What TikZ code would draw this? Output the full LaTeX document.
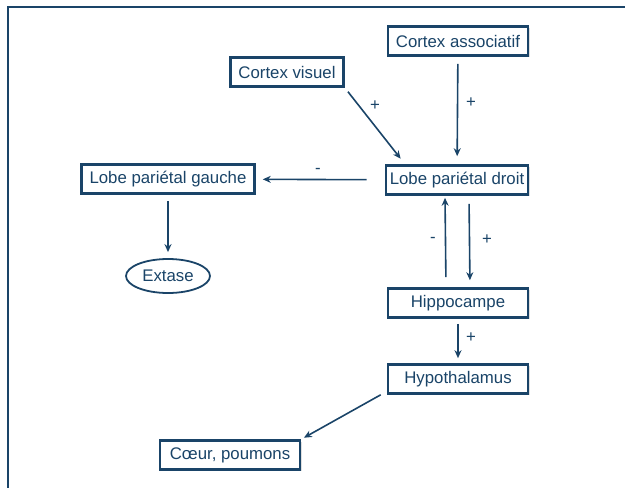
\documentclass[tikz,border=0pt]{standalone}
\usepackage{fontspec}
\setmainfont{Liberation Sans}
\usetikzlibrary{arrows.meta,shadows,shapes.geometric}
\definecolor{navy}{HTML}{1A4468}

\begin{document}
\begin{tikzpicture}[x=1pt,y=-1pt,
    boite/.style={draw=navy, line width=2.6pt, fill=white, text=navy,
        minimum height=29pt, inner xsep=8pt, inner ysep=2pt,
        font=\fontsize{16.8}{18}\selectfont,
        drop shadow={opacity=0.25, shadow xshift=1.5pt, shadow yshift=-1.5pt}},
    fleche/.style={draw=navy, line width=1.6pt, -{Stealth[length=8pt,width=7pt]}},
    signe/.style={text=navy, font=\fontsize{16.8}{18}\selectfont}]
    \useasboundingbox (0,0) rectangle (625,488);

    % Frame
    \draw[navy, line width=2.6pt] (8,488) -- (8,7) -- (625,7);

    % Boxes
    \node[boite, minimum width=140pt] (assoc) at (458,41) {Cortex associatif};
    \node[boite] (visuel) at (287,72) {Cortex visuel};
    \node[boite, inner xsep=3pt, minimum width=142pt] (droit) at (457,180) {Lobe pariétal droit};
    \node[boite] (gauche) at (168,179) {Lobe pariétal gauche};
    \node[draw=navy, line width=1.8pt, ellipse, text=navy, minimum width=84pt,
        minimum height=34pt, inner sep=0pt,
        font=\fontsize{16.8}{18}\selectfont] (extase) at (168,276) {Extase};
    \node[boite, minimum width=140pt] (hippo) at (458,303) {Hippocampe};
    \node[boite, minimum width=140pt] (hypo) at (458,379) {Hypothalamus};
    \node[boite, minimum width=140pt] (coeur) at (230,455) {Cœur, poumons};

    % Arrows
    \draw[fleche, shorten <=7pt, shorten >=8pt] (assoc) -- (droit);
    \draw[fleche, shorten <=5pt, shorten >=7pt] (visuel.south east) -- ([xshift=-52pt]droit.north);
    \draw[fleche, shorten <=18pt, shorten >=7pt] (droit) -- (gauche);
    \draw[fleche, shorten <=6pt, shorten >=6pt] (gauche) -- (extase);
    \draw[fleche, shorten <=10pt, shorten >=2pt] ([xshift=-12pt]hippo.north) -- ([xshift=-12pt]droit.south);
    \draw[fleche, shorten <=8pt, shorten >=7pt] ([xshift=12pt]droit.south) -- ([xshift=12pt]hippo.north);
    \draw[fleche, shorten <=5pt, shorten >=5pt] (hippo) -- (hypo);
    \draw[fleche, shorten <=0pt, shorten >=3pt] ([xshift=-6pt]hypo.south west) -- (coeur.north east);

    % Signs
    \node[signe] (s1) at (375,106) {+};
    \node[signe] (s2) at (471,103) {+};
    \node[signe] (s3) at (318,171) {-};
    \node[signe] (s4) at (433,240) {-};
    \node[signe] (s5) at (487,240) {+};
    \node[signe] (s6) at (471,338) {+};
\end{tikzpicture}
\end{document}
